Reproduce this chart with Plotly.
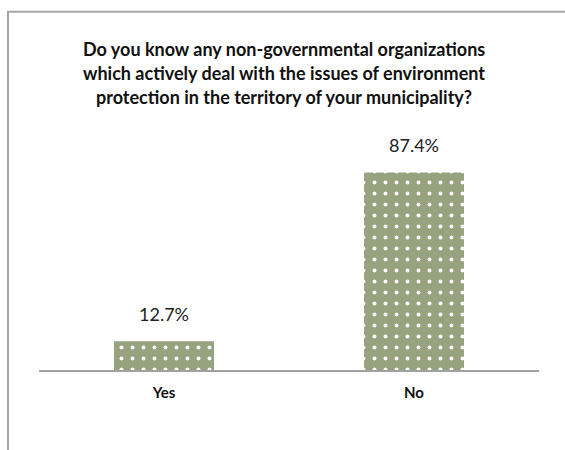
import plotly.graph_objects as go

categories = ["Yes", "No"]
shares = [12.7, 87.4]
title_lines = [
    "Do you know any non-governmental organizations",
    "which actively deal with the issues of environment",
    "protection in the territory of your municipality?",
]

W, H = 565, 450
L, R, T, B = 39, 26, 143.5, 80
plot_h = H - T - B
FONT = "Lato, Open Sans, sans-serif"

fig = go.Figure(
    go.Bar(
        x=categories,
        y=shares,
        width=0.4,
        marker=dict(
            color="#97a37e",
            line=dict(width=0),
            pattern=dict(shape=".", fgcolor="#ffffff", bgcolor="#97a37e",
                         size=11, solidity=0.1, fillmode="replace"),
        ),
        hoverinfo="skip",
    )
)

# value labels above each bar
for c, v in zip(categories, shares):
    fig.add_annotation(
        x=c, y=v, text=f"{v:.1f}%", showarrow=False, yshift=27,
        font=dict(family=FONT, size=18, color="#222222"),
    )

# chart title, one line per annotation
for i, line in enumerate(title_lines):
    fig.add_annotation(
        xref="paper", yref="paper", x=0.49,
        y=(H - B - (48 + 24 * i)) / plot_h,
        text=f"<b>{line}</b>", showarrow=False, xanchor="center", yanchor="middle",
        font=dict(family=FONT, size=18, color="#111111"),
    )

# chart frame (open to the right and bottom)
pw = W - L - R
fig.add_shape(
    type="rect", xref="paper", yref="paper",
    x0=(8 - L) / pw, x1=(W + 20 - L) / pw,
    y0=-1, y1=(H - B - 11) / plot_h,
    line=dict(color="#a6a6a6", width=2), fillcolor="rgba(0,0,0,0)", layer="below",
)

fig.update_layout(
    width=W, height=H,
    margin=dict(l=L, r=R, t=T, b=B),
    paper_bgcolor="white", plot_bgcolor="white",
    showlegend=False,
    xaxis=dict(
        showline=True, linecolor="#a0a0a0", linewidth=2,
        showgrid=False, ticks="", ticklabelstandoff=8,
        tickfont=dict(family=FONT, size=15, color="#111111"),
        tickprefix="<b>", ticksuffix="</b>",
    ),
    yaxis=dict(range=[0, 100], visible=False, showgrid=False, zeroline=False),
)

fig.write_html("out.html")
